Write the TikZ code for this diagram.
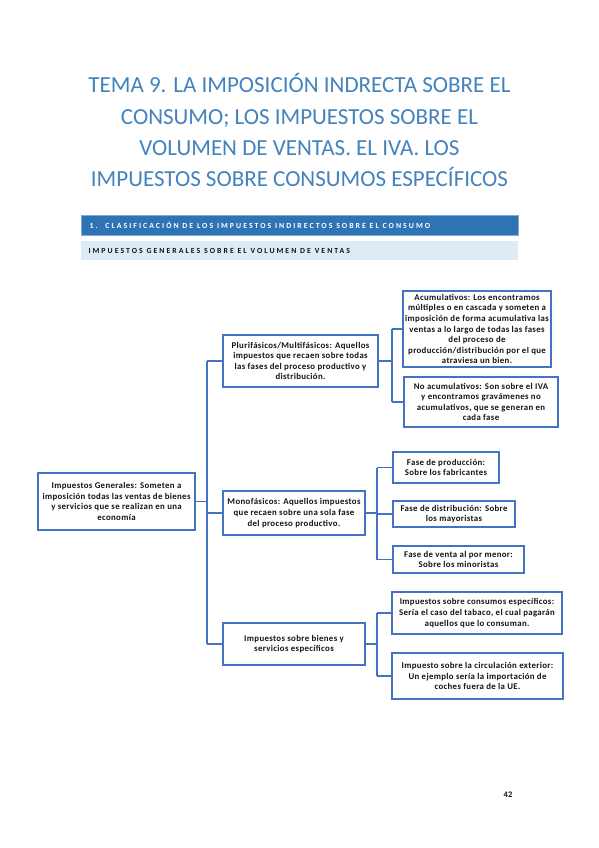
\documentclass[tikz,border=0pt]{standalone}
\usepackage{fontspec}
\setmainfont{Carlito}
\definecolor{titleblue}{RGB}{46,116,181}
\definecolor{barblue}{RGB}{46,116,181}
\definecolor{lightbar}{RGB}{222,234,246}
\definecolor{boxblue}{RGB}{68,114,196}
\definecolor{txt}{RGB}{20,20,20}
\tikzset{
  box/.style={draw=boxblue, line width=1.3pt, fill=white, align=center, inner sep=0pt,
    font=\fontsize{8.8}{10.6}\selectfont\bfseries\addfontfeatures{LetterSpace=4}, text=txt},
  link/.style={draw=boxblue, line width=1.1pt},
  bartext/.style={anchor=west, font=\fontsize{7.8}{8}\selectfont\bfseries\addfontfeatures{LetterSpace=26}},
}
\begin{document}
\begin{tikzpicture}[x=1pt,y=-1pt]
\useasboundingbox (0,0) rectangle (599,848);
% title
\node[font=\fontsize{23}{31.3}\selectfont, text=titleblue!90, align=center, anchor=north] (title) at (299.5,70)
 {TEMA 9. LA IMPOSICIÓN INDRECTA SOBRE EL\\CONSUMO; LOS IMPUESTOS SOBRE EL\\VOLUMEN DE VENTAS. EL IVA. LOS\\IMPUESTOS SOBRE CONSUMOS ESPECÍFICOS};
% bars
\node[fill=barblue, draw=barblue!60, line width=0.6pt, minimum width=437, minimum height=20, inner sep=0pt, anchor=north west] (bar1) at (81,215) {};
\node[bartext, text=white] (bar1t) at (86,225) {1.\quad CLASIFICACIÓN DE LOS IMPUESTOS INDIRECTOS SOBRE EL CONSUMO};
\node[fill=lightbar, minimum width=437, minimum height=19, inner sep=0pt, anchor=north west] (bar2) at (81,241) {};
\node[bartext, text=txt] (bar2t) at (85,250.5) {IMPUESTOS GENERALES SOBRE EL VOLUMEN DE VENTAS};
% boxes
\node[box, minimum width=157, minimum height=57] (root) at (116.5,501.5)
 {Impuestos Generales: Someten a\\imposición todas las ventas de bienes\\y servicios que se realizan en una\\economía};
\node[box, minimum width=155, minimum height=52] (plur) at (300.5,361)
 {Plurifásicos/Multifásicos: Aquellos\\impuestos que recaen sobre todas\\las fases del proceso productivo y\\distribución.};
\node[box, minimum width=142, minimum height=44] (mono) at (294,513)
 {Monofásicos: Aquellos impuestos\\que recaen sobre una sola fase\\del proceso productivo.};
\node[box, minimum width=142, minimum height=42] (bien) at (294,644)
 {Impuestos sobre bienes y\\servicios específicos};
\node[box, minimum width=148, minimum height=76] (acum) at (477,329)
 {Acumulativos: Los encontramos\\múltiples o en cascada y someten a\\imposición de forma acumulativa las\\ventas a lo largo de todas las fases\\del proceso de\\producción/distribución por el que\\atraviesa un bien.};
\node[box, minimum width=154, minimum height=50] (noac) at (481,402)
 {No acumulativos: Son sobre el IVA\\y encontramos gravámenes no\\acumulativos, que se generan en\\cada fase};
\node[box, minimum width=106, minimum height=31] (fp) at (446,467.5)
 {Fase de producción:\\Sobre los fabricantes};
\node[box, minimum width=122, minimum height=26] (fd) at (454,514)
 {Fase de distribución: Sobre\\los mayoristas};
\node[box, minimum width=131, minimum height=27] (fv) at (458.5,559.5)
 {Fase de venta al por menor:\\Sobre los minoristas};
\node[box, minimum width=170, minimum height=42] (ic) at (477,613)
 {Impuestos sobre consumos específicos:\\Sería el caso del tabaco, el cual pagarán\\aquellos que lo consuman.};
\node[box, minimum width=171, minimum height=46] (ice) at (477.5,676)
 {Impuesto sobre la circulación exterior:\\Un ejemplo sería la importación de\\coches fuera de la UE.};
% page number
\node[font=\fontsize{8.5}{10}\selectfont\bfseries, text=txt] (pg) at (508,795) {42};
% connectors
\coordinate (t1) at (207,501.5);
\coordinate (t2) at (392,361);
\coordinate (t3) at (377,513);
\coordinate (t4) at (377,644);
\draw[link] (root.east) -- (t1);
\draw[link] (t1 |- plur.west) -- (t1 |- bien.west);
\draw[link] (t1 |- plur.west) -- (plur.west);
\draw[link] (t1 |- mono.west) -- (mono.west);
\draw[link] (t1 |- bien.west) -- (bien.west);
\draw[link] (plur.east) -- (t2);
\draw[link] (t2 |- acum.west) -- (t2 |- noac.west);
\draw[link] (t2 |- acum.west) -- (acum.west);
\draw[link] (t2 |- noac.west) -- (noac.west);
\draw[link] (mono.east) -- (t3);
\draw[link] (t3 |- fp.west) -- (t3 |- fv.west);
\draw[link] (t3 |- fp.west) -- (fp.west);
\draw[link] (t3 |- fd.west) -- (fd.west);
\draw[link] (t3 |- fv.west) -- (fv.west);
\draw[link] (bien.east) -- (t4);
\draw[link] (t4 |- ic.west) -- (t4 |- ice.west);
\draw[link] (t4 |- ic.west) -- (ic.west);
\draw[link] (t4 |- ice.west) -- (ice.west);
\end{tikzpicture}
\end{document}
